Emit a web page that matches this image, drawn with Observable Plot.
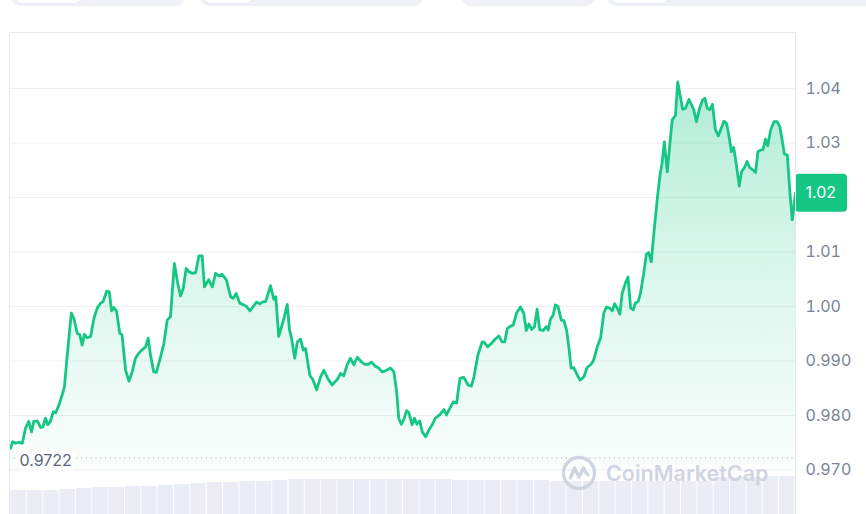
<!DOCTYPE html>
<html>
<head>
<meta charset="utf-8">
<script src="https://cdn.jsdelivr.net/npm/d3@7"></script>
<script src="https://cdn.jsdelivr.net/npm/@observablehq/plot@0.6"></script>
<style>
  html, body { margin: 0; padding: 0; background: #fff; }
  #wrap { position: relative; width: 866px; height: 514px; overflow: hidden; background: #fff; font-family: Inter, "Noto Sans", sans-serif; }
  #wrap > svg, #wrap > .layer { position: absolute; left: 0; top: 0; }
  .tab { position: absolute; top: -12px; height: 18px; background: #eef1f5; border-radius: 9px; }
  .pill { position: absolute; top: -12px; height: 15px; background: #fff; border-radius: 7px; box-shadow: 0 0 1px rgba(0,0,0,0.12); }
  #wm { position: absolute; left: 561px; top: 455px; display: flex; align-items: center; gap: 9px; color: #cdd4e1; font-size: 21.5px; font-weight: 600; font-family: Inter, sans-serif; opacity: 0.95; }
</style>
</head>
<body>
<div id="wrap">
  <div class="tab" style="left:11px;width:174px"></div>
  <div class="pill" style="left:15px;width:67px"></div>
  <div class="tab" style="left:200px;width:223px"></div>
  <div class="pill" style="left:203px;width:50px"></div>
  <div class="tab" style="left:462px;width:133px"></div>
  <div class="tab" style="left:607px;width:270px"></div>
  <div class="pill" style="left:612px;width:56px"></div>
</div>
<script>
// ---- data (hours since start of the 24h window, price in USD) ----
const hours = [
0,0.07,0.15,0.25,0.36,0.46,0.56,0.64,0.71,0.82,0.92,0.99,1.07,1.14,1.22,1.31,1.38,1.48,1.58,1.65,1.73,1.86,1.94,2.04,2.12,2.19,2.26,2.34,2.45,2.55,2.65,2.75,2.83,2.94,3.02,3.09,3.16,3.24,3.34,3.41,3.52,3.62,3.72,3.82,3.92,4.03,4.13,4.21,4.28,4.38,4.46,4.59,4.69,4.79,4.89,5.01,5.11,5.20,5.28,5.37,5.45,5.56,5.66,
5.76,5.86,5.93,6.06,6.17,6.27,6.37,6.47,6.60,6.73,6.81,6.90,7.01,7.13,7.22,7.32,7.42,7.52,7.62,7.73,7.80,7.95,8.05,8.11,8.20,8.36,8.46,8.53,8.59,8.69,8.77,8.87,8.95,9.02,9.15,9.25,9.36,9.48,9.58,9.70,9.83,9.99,10.09,10.19,10.29,10.39,10.50,10.60,10.72,10.82,10.94,11.04,11.14,11.26,11.36,11.46,
11.62,11.72,11.80,11.87,11.95,12.02,12.11,12.18,12.28,12.35,12.43,12.51,12.59,12.69,12.79,12.89,12.99,13.12,13.25,13.33,13.43,13.54,13.64,13.74,13.86,13.99,14.09,14.17,14.29,14.42,14.49,14.59,14.70,14.80,14.93,15.03,15.11,15.19,15.29,15.37,15.47,15.59,15.69,15.77,15.85,15.93,16.02,16.10,16.18,16.29,16.38,16.44,16.51,16.59,16.66,16.74,16.84,16.92,17.00,17.07,17.14,17.22,17.33,17.41,17.53,17.63,17.75,17.83,17.94,18.04,
18.14,18.22,18.32,18.40,18.47,18.55,18.63,18.70,18.80,18.88,18.96,19.04,19.11,19.19,19.26,19.36,19.44,19.51,19.59,19.67,19.77,19.85,19.92,19.99,20.08,20.16,20.23,20.33,20.40,20.48,20.55,20.64,20.74,20.82,20.89,20.97,21.07,21.16,21.23,21.30,21.38,21.46,21.55,21.64,21.73,21.81,21.89,21.96,22.04,22.11,22.20,22.28,22.35,22.44,22.52,22.60,22.71,22.78,22.85,22.93,23.01,23.08,23.15,23.24,23.34,23.44,23.52,23.59,23.66,23.75,23.83,23.90,24.00
];
const prices = [
0.9740,0.9752,0.9749,0.9751,0.9749,0.9777,0.9789,0.9770,0.9789,0.9790,0.9778,0.9779,0.9795,0.9783,0.9789,0.9807,0.9805,0.9819,0.9838,0.9853,0.9908,0.9988,0.9978,0.9951,0.9948,0.9929,0.9949,0.9943,0.9945,0.9978,0.9997,1.0006,1.0009,1.0028,1.0027,0.9992,0.9998,0.9992,0.9951,0.9948,0.9883,0.9863,0.9880,0.9905,0.9914,0.9921,0.9926,0.9942,0.9911,0.9880,0.9879,0.9908,0.9932,0.9975,0.9981,1.0079,1.0043,1.0019,1.0033,1.0070,1.0064,1.0061,1.0062,
1.0093,1.0093,1.0036,1.0049,1.0036,1.0061,1.0056,1.0059,1.0049,1.0018,1.0015,1.0024,1.0006,1.0003,1.0000,0.9992,1.0000,1.0008,1.0005,1.0009,1.0009,1.0038,1.0013,1.0018,0.9945,0.9978,1.0004,0.9957,0.9942,0.9905,0.9935,0.9940,0.9920,0.9923,0.9874,0.9865,0.9847,0.9871,0.9883,0.9868,0.9856,0.9866,0.9877,0.9873,0.9893,0.9905,0.9893,0.9907,0.9899,0.9894,0.9894,0.9898,0.9891,0.9887,0.9880,0.9882,
0.9887,0.9880,0.9847,0.9795,0.9784,0.9792,0.9809,0.9805,0.9783,0.9795,0.9784,0.9790,0.9770,0.9761,0.9773,0.9783,0.9795,0.9801,0.9811,0.9801,0.9813,0.9825,0.9823,0.9868,0.9870,0.9856,0.9854,0.9871,0.9911,0.9935,0.9934,0.9926,0.9932,0.9939,0.9946,0.9935,0.9935,0.9960,0.9964,0.9966,0.9988,0.9999,0.9988,0.9956,0.9968,0.9958,0.9963,0.9995,0.9957,0.9956,0.9963,0.9957,0.9977,0.9984,1.0003,1.0000,0.9975,0.9974,0.9957,0.9926,0.9887,0.9888,0.9874,0.9865,0.9871,0.9888,0.9894,0.9902,0.9926,0.9942,
0.9988,0.9999,0.9997,0.9992,1.0005,0.9997,0.9986,1.0024,1.0043,1.0054,0.9997,0.9994,1.0007,1.0009,1.0024,1.0061,1.0096,1.0099,1.0082,1.0134,1.0195,1.0238,1.0263,1.0302,1.0247,1.0299,1.0342,1.0351,1.0412,1.0385,1.0362,1.0364,1.0380,1.0370,1.0361,1.0339,1.0364,1.0379,1.0382,1.0364,1.0361,1.0371,1.0325,1.0313,1.0327,1.0340,1.0336,1.0315,1.0284,1.0292,1.0257,1.0221,1.0247,1.0255,1.0266,1.0255,1.0250,1.0246,1.0284,1.0287,1.0288,1.0307,1.0295,1.0324,1.0339,1.0339,1.0330,1.0306,1.0280,1.0278,1.0208,1.0159,1.0208
];
const openPrice = 0.9722;
const openLabel = "0.9722";
const currentLabel = "1.02";
const tickValues = [0.97, 0.98, 0.99, 1.00, 1.01, 1.02, 1.03, 1.04];
const tickLabels = ["0.970", "0.980", "0.990", "1.00", "1.01", "1.02", "1.03", "1.04"];
// volume, half-hour bins (relative units)
const volHours = [0,0.5,1,1.5,2,2.5,3,3.5,4,4.5,5,5.5,6,6.5,7,7.5,8,8.5,9,9.5,10,10.5,11,11.5,12,12.5,13,13.5,14,14.5,15,15.5,16,16.5,17,17.5,18,18.5,19,19.5,20,20.5,21,21.5,22,22.5,23,23.5];
const volumes  = [24,24,24,25,26,27,27,28,28,29,30,31,32,32,33,33,34,35,35,35,35,35,35,35,35,35,35,34,34,34,34,34,34,33,33,33,33,33,33,33,33,33,33,37,37,37,38,38];

if (hours.length !== prices.length) throw new Error("length mismatch " + hours.length + " vs " + prices.length);

const data = hours.map((t, i) => ({t, v: prices[i]}));
const last = data[data.length - 1];
const vol = volHours.map((t, i) => ({t0: t, t1: t + 0.5, v: volumes[i]}));

// the tick hidden under the current-price tag is not labelled on the axis
const axisTicks = tickValues.filter(d => tickLabels[tickValues.indexOf(d)] !== currentLabel);

const W = 866, H = 514;
const green = "#16c784";
const textGray = "#7a8496";

// volume layer
const volPlot = Plot.plot({
  width: W, height: H,
  marginLeft: 10, marginRight: 71, marginTop: 0, marginBottom: 0,
  x: {domain: [0, 24], range: [10, 795], axis: null},
  y: {domain: [0, 40], range: [H, H - 40], axis: null},
  style: {background: "transparent"},
  marks: [
    Plot.rectY(vol, {x1: "t0", x2: "t1", y: "v", fill: "#e3e7f2", fillOpacity: 0.75, insetLeft: 0.5, insetRight: 0.5})
  ]
});

// price layer
const pricePlot = Plot.plot({
  width: W, height: H,
  marginLeft: 9, marginRight: 71, marginTop: 32, marginBottom: 0,
  x: {domain: [0, 24], range: [10, 795], axis: null},
  y: {domain: [0.97, 1.04], range: [469.5, 88], axis: null},
  style: {background: "transparent", fontFamily: "Inter, sans-serif"},
  marks: [
    Plot.gridY(tickValues, {stroke: "#eef0f3", strokeOpacity: 1}),
    Plot.areaY(data, {x: "t", y1: 0.97, y2: "v", fill: "url(#areaGrad)"}),
    Plot.ruleY([openPrice], {stroke: "#aab2bf", strokeWidth: 1.2, strokeDasharray: "1.2,3.6"}),
    Plot.lineY(data, {x: "t", y: "v", stroke: green, strokeWidth: 2.8, strokeLinejoin: "round", strokeLinecap: "round"}),
    Plot.text([openPrice], {x: 0, y: d => d, text: () => openLabel, textAnchor: "start", dx: 9, dy: 3,
      fontSize: 16, fill: "#5b6679", stroke: "#fff", strokeWidth: 10, strokeLinejoin: "round"}),
    Plot.axisY(axisTicks, {anchor: "right", label: null, tickSize: 0, tickPadding: 10, fontSize: 16,
      fill: textGray, tickFormat: d => tickLabels[tickValues.indexOf(d)], textAnchor: "start"}),
    Plot.rect([last], {x1: "t", x2: "t", y1: "v", y2: "v", insetLeft: 0, insetRight: -52,
      insetTop: -19, insetBottom: -19, rx: 4, fill: green}),
    Plot.text([last], {x: "t", y: "v", text: () => currentLabel, textAnchor: "start", dx: 10,
      fontSize: 16, fill: "#fff"}),
    Plot.frame({stroke: "#e6e9ee", strokeOpacity: 1})
  ]
});

// gradient for the area, placed via the plot's own y scale
const ys = pricePlot.scale("y");
const yTop = ys.apply(1.042), yBot = ys.apply(0.97);
const ns = "http://www.w3.org/2000/svg";
const defs = document.createElementNS(ns, "defs");
const lg = document.createElementNS(ns, "linearGradient");
lg.setAttribute("id", "areaGrad");
lg.setAttribute("gradientUnits", "userSpaceOnUse");
lg.setAttribute("x1", 0); lg.setAttribute("x2", 0);
lg.setAttribute("y1", yTop); lg.setAttribute("y2", yBot);
[[0, 0.34], [0.45, 0.17], [1, 0.02]].forEach(([o, a]) => {
  const s = document.createElementNS(ns, "stop");
  s.setAttribute("offset", o);
  s.setAttribute("stop-color", green);
  s.setAttribute("stop-opacity", a);
  lg.appendChild(s);
});
defs.appendChild(lg);
pricePlot.insertBefore(defs, pricePlot.firstChild);

const wrap = document.getElementById("wrap");
wrap.appendChild(volPlot);
wrap.appendChild(pricePlot);

// watermark
const wm = document.createElement("div");
wm.id = "wm";
wm.innerHTML = '<svg width="36" height="36" viewBox="0 0 36 36"><circle cx="18" cy="18" r="15.5" fill="none" stroke="#cdd4e1" stroke-width="3.4"/>' +
  '<path d="M9.5 23 L13.5 13 L18 22 L22.5 13 Q24.5 18 27 20" fill="none" stroke="#cdd4e1" stroke-width="3.4" stroke-linejoin="round" stroke-linecap="round"/></svg>' +
  '<span>CoinMarketCap</span>';
wrap.appendChild(wm);
</script>
</body>
</html>
